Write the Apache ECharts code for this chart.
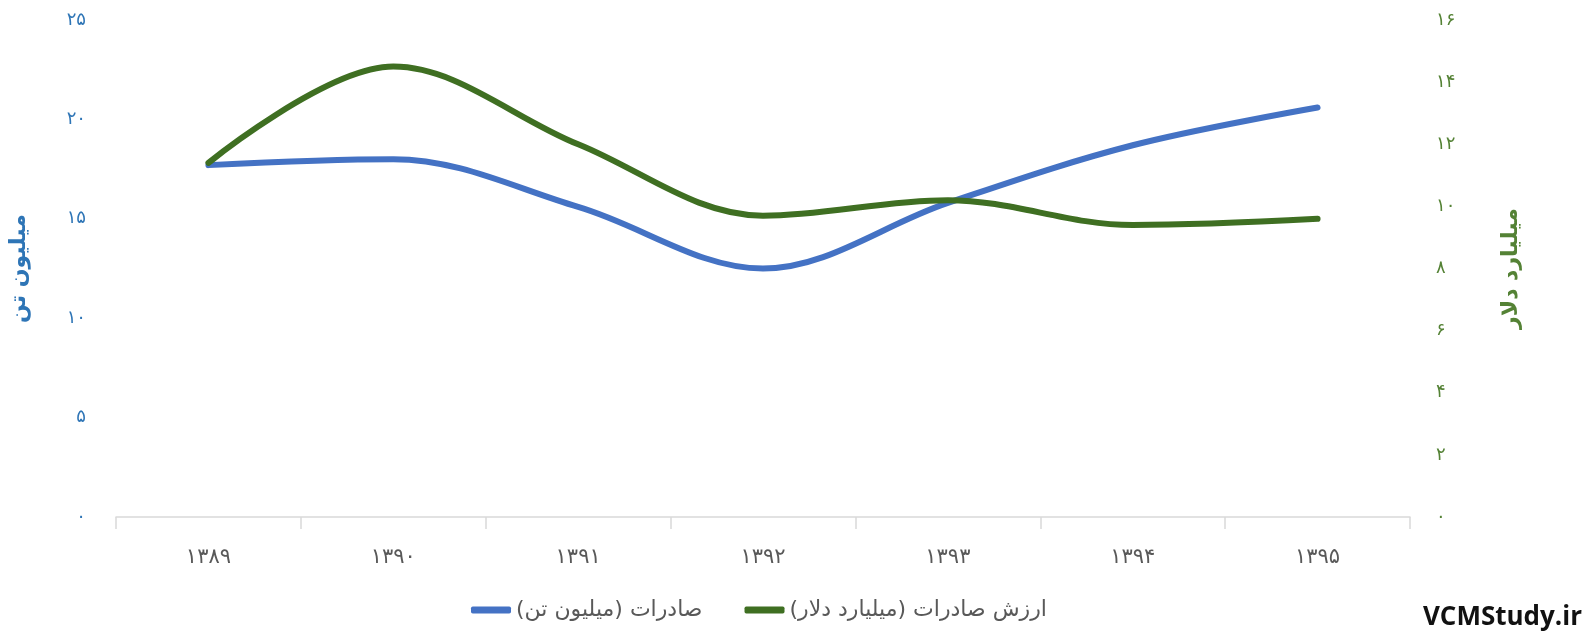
<!DOCTYPE html>
<html>
<head>
<meta charset="utf-8">
<script src="https://cdn.jsdelivr.net/npm/echarts@6/dist/echarts.min.js"></script>
<style>html,body{margin:0;padding:0;background:#fff;}#c{width:1586px;height:634px;}</style>
</head>
<body>
<div id="c"></div>
<script>
const years = ['۱۳۸۹', '۱۳۹۰', '۱۳۹۱', '۱۳۹۲', '۱۳۹۳', '۱۳۹۴', '۱۳۹۵'];
const exportTons = [17.7, 18.0, 15.6, 12.5, 15.8, 18.7, 20.6];
const exportValue = [11.4, 14.5, 12.0, 9.7, 10.2, 9.4, 9.6];
const seriesNames = ['صادرات (میلیون تن)', 'ارزش صادرات (میلیارد دلار)'];
const leftAxisName = 'میلیون تن';
const rightAxisName = 'میلیارد دلار';
const watermark = 'VCMStudy.ir';

const fa = '۰۱۲۳۴۵۶۷۸۹';
const toFa = v => String(v).replace(/[0-9]/g, d => fa[+d]);
const FONT = '"DejaVu Sans", "Noto Sans", sans-serif';
const BLUE = '#4472C4', GREEN = '#3F6F22';

const chart = echarts.init(document.getElementById('c'));
chart.setOption({
  animation: false,
  backgroundColor: '#ffffff',
  textStyle: { fontFamily: FONT },
  grid: { left: 115, right: 176, top: 20, bottom: 117 },
  legend: {
    data: seriesNames,
    bottom: 8,
    left: 466,
    itemWidth: 40, itemHeight: 7, itemGap: 42,
    icon: 'roundRect',
    textStyle: { color: '#595959', fontSize: 22, fontFamily: FONT }
  },
  xAxis: {
    type: 'category',
    data: years,
    boundaryGap: true,
    axisLine: { lineStyle: { color: '#d9d9d9', width: 1.5 } },
    axisTick: { show: true, length: 12, lineStyle: { color: '#d9d9d9', width: 1.5 } },
    axisLabel: { color: '#595959', fontSize: 21, margin: 30, fontFamily: FONT }
  },
  yAxis: [
    {
      type: 'value', min: 0, max: 25, interval: 5, position: 'left',
      name: leftAxisName, nameLocation: 'middle', nameRotate: 90, nameGap: 86,
      nameTextStyle: { color: '#2E75B6', fontSize: 22, fontWeight: 'bold', fontFamily: FONT },
      axisLine: { show: false }, axisTick: { show: false }, splitLine: { show: false },
      axisLabel: { color: '#2E75B6', fontSize: 18, margin: 30, formatter: v => toFa(v), fontFamily: FONT }
    },
    {
      type: 'value', min: 0, max: 16, interval: 2, position: 'right',
      name: rightAxisName, nameLocation: 'middle', nameRotate: 90, nameGap: 90,
      nameTextStyle: { color: '#548235', fontSize: 22, fontWeight: 'bold', fontFamily: FONT },
      axisLine: { show: false }, axisTick: { show: false }, splitLine: { show: false },
      axisLabel: { color: '#548235', fontSize: 18, margin: 26, formatter: v => toFa(v), fontFamily: FONT }
    }
  ],
  series: [
    {
      name: seriesNames[0], type: 'line', yAxisIndex: 0, data: exportTons,
      smooth: 0.35, showSymbol: false, symbol: 'none',
      lineStyle: { color: BLUE, width: 6, cap: 'round' }, itemStyle: { color: BLUE }
    },
    {
      name: seriesNames[1], type: 'line', yAxisIndex: 1, data: exportValue,
      smooth: 0.35, showSymbol: false, symbol: 'none',
      lineStyle: { color: GREEN, width: 6, cap: 'round' }, itemStyle: { color: GREEN }
    }
  ],
  graphic: [
    { type: 'text', right: 4, bottom: 3,
      style: { text: watermark, fill: '#111', font: 'bold 26px "Open Sans", "DejaVu Sans", sans-serif' } }
  ]
});
</script>
</body>
</html>
